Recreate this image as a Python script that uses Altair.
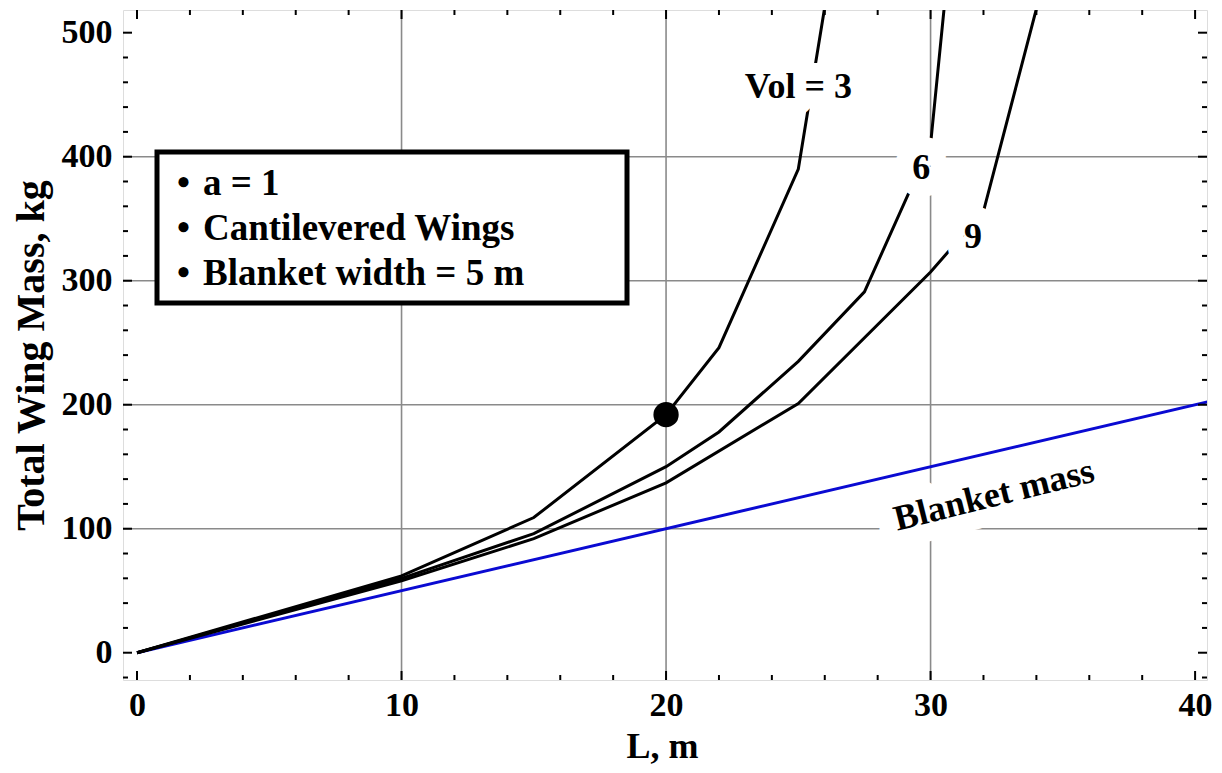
import altair as alt
import pandas as pd

# ---------------- data ----------------
vol3_L = [0, 10, 15, 20, 22, 25, 26.3]
vol3_M = [0, 62, 109, 192, 246, 390, 560]
vol6_L = [0, 10, 15, 20, 22, 25, 27.5, 30, 30.7]
vol6_M = [0, 60, 96, 150, 178, 235, 291, 410, 560]
vol9_L = [0, 10, 15, 20, 25, 30, 32, 34.5]
vol9_M = [0, 58, 92, 137, 201, 307, 356, 560]
blanket_L = [0, 41]
blanket_M = [0, 205]

dot_L = [20]
dot_M = [192]

ann_text = ["Vol = 3", "6", "9", "Blanket mass"]
ann_L = [25.0, 29.65, 31.6, 32.4]
ann_M = [456, 391, 335, 127]
ann_angle = [0, 0, 0, 346]

legend_lines = ["a = 1", "Cantilevered Wings", "Blanket width = 5 m"]

x_major = [0, 10, 20, 30, 40]
x_minor = [2, 4, 6, 8, 12, 14, 16, 18, 22, 24, 26, 28, 32, 34, 36, 38]
y_major = [0, 100, 200, 300, 400, 500]
y_minor = [-20, 20, 40, 60, 80, 120, 140, 160, 180, 220, 240, 260, 280,
           320, 340, 360, 380, 420, 440, 460, 480]
x_grid = [10, 20, 30]
y_grid = [100, 200, 300, 400]

# ---------------- chart ----------------
W, H = 1084, 670
FONT = "Liberation Serif"
xs = alt.Scale(domain=[-0.53, 40.45], nice=False, zero=False)
ys = alt.Scale(domain=[-22, 518.3], nice=False, zero=False)

X_AXIS = alt.Axis(values=x_major, ticks=False, domain=False, grid=False,
                  labelFontSize=34, labelPadding=8, labelFont=FONT, labelFontWeight="bold",
                  labelColor="black", titleFont=FONT, titleFontSize=36, titleFontWeight="bold",
                  titleColor="black", titleY=77, titleX=539, titleBaseline="alphabetic")
Y_AXIS = alt.Axis(values=y_major, ticks=False, domain=False, grid=False,
                  labelFontSize=34, labelPadding=11, labelFont=FONT, labelFontWeight="bold",
                  labelColor="black", titleFont=FONT, titleFontSize=40, titleFontWeight="bold",
                  titleColor="black", titleX=-92, titleY=345, titleBaseline="middle")
X_TITLE = "L, m"
Y_TITLE = "Total Wing Mass, kg"


def xe(field):
    return alt.X(field, type="quantitative", scale=xs, axis=X_AXIS, title=X_TITLE)


def ye(field):
    return alt.Y(field, type="quantitative", scale=ys, axis=Y_AXIS, title=Y_TITLE)


rows = []
for name, Ls, Ms in [("3", vol3_L, vol3_M), ("6", vol6_L, vol6_M), ("9", vol9_L, vol9_M)]:
    for i, (l, m) in enumerate(zip(Ls, Ms)):
        rows.append({"vol": name, "L": l, "M": m, "o": i})
curves_df = pd.DataFrame(rows)
blanket_df = pd.DataFrame({"L": blanket_L, "M": blanket_M})
dot_df = pd.DataFrame({"L": dot_L, "M": dot_M})
ann_df = pd.DataFrame({"t": ann_text, "L": ann_L, "M": ann_M, "a": ann_angle})
leg_df = pd.DataFrame({"t": legend_lines, "i": list(range(len(legend_lines)))})
one = pd.DataFrame({"k": [0]})

# gridlines
grid_x = alt.Chart(pd.DataFrame({"L": x_grid})).mark_rule(color="#8a8a8a", strokeWidth=1.6).encode(
    x=xe("L"))
grid_y = alt.Chart(pd.DataFrame({"M": y_grid})).mark_rule(color="#8a8a8a", strokeWidth=1.6).encode(
    y=ye("M"))

blanket = alt.Chart(blanket_df).mark_line(color="#0a0ad2", strokeWidth=3, clip=True).encode(
    x=xe("L"), y=ye("M"))

curves = alt.Chart(curves_df).mark_line(color="black", strokeWidth=3, clip=True).encode(
    x=xe("L"), y=ye("M"), detail="vol:N", order="o:Q")

dot = alt.Chart(dot_df).mark_circle(color="black", opacity=1, size=640).encode(
    x=xe("L"), y=ye("M"))

ann_enc = dict(x=xe("L"), y=ye("M"), text="t:N", angle=alt.Angle("a:Q", scale=None))
halo = alt.Chart(ann_df).mark_text(font=FONT, fontWeight="bold", fontSize=36, fill="white",
                                   stroke="white", strokeWidth=36, strokeJoin="round",
                                   align="center", baseline="middle").encode(**ann_enc)
ann = alt.Chart(ann_df).mark_text(font=FONT, fontWeight="bold", fontSize=36, color="black",
                                  align="center", baseline="middle").encode(**ann_enc)

# legend box
box = alt.Chart(one).mark_rect(fill="white", stroke="black", strokeWidth=5).encode(
    x=alt.value(34), x2=alt.value(504), y=alt.value(142), y2=alt.value(293))
leg_text = alt.Chart(leg_df).transform_calculate(py="185 + 45*datum.i").mark_text(
    font=FONT, fontWeight="bold", fontSize=37, color="black", align="left", baseline="alphabetic").encode(
    x=alt.value(80), y=alt.Y("py:Q", scale=None, axis=None), text="t:N")
leg_bullet = alt.Chart(leg_df).transform_calculate(py="185 + 45*datum.i", b="'•'").mark_text(
    font=FONT, fontWeight="bold", fontSize=37, color="black", align="left", baseline="alphabetic").encode(
    x=alt.value(54), y=alt.Y("py:Q", scale=None, axis=None), text="b:N")


# inward ticks on all four sides
def xticks(vals, length):
    d = pd.DataFrame({"L": vals})
    bottom = alt.Chart(d).mark_rule(color="black", strokeWidth=2).encode(
        x=xe("L"), y=alt.value(H), y2=alt.value(H - length))
    top = alt.Chart(d).mark_rule(color="black", strokeWidth=2).encode(
        x=xe("L"), y=alt.value(0), y2=alt.value(length))
    return [bottom, top]


def yticks(vals, length):
    d = pd.DataFrame({"M": vals})
    left = alt.Chart(d).mark_rule(color="black", strokeWidth=2).encode(
        y=ye("M"), x=alt.value(0), x2=alt.value(length))
    right = alt.Chart(d).mark_rule(color="black", strokeWidth=2).encode(
        y=ye("M"), x=alt.value(W), x2=alt.value(W - length))
    return [left, right]


ticks = xticks(x_major, 9) + xticks(x_minor, 5) + yticks(y_major, 9) + yticks(y_minor, 5)

chart = alt.layer(
    grid_x, grid_y, blanket, curves, dot, halo, ann, box, leg_bullet, leg_text, *ticks
).properties(
    width=W, height=H,
    padding={"left": 115, "top": 2, "right": 7, "bottom": 88},
    autosize=alt.AutoSizeParams(type="none"),
).configure_view(stroke="black", strokeWidth=2.5).configure(background="white")

chart.save("out.html", embed_options={"renderer": "svg", "actions": False})
